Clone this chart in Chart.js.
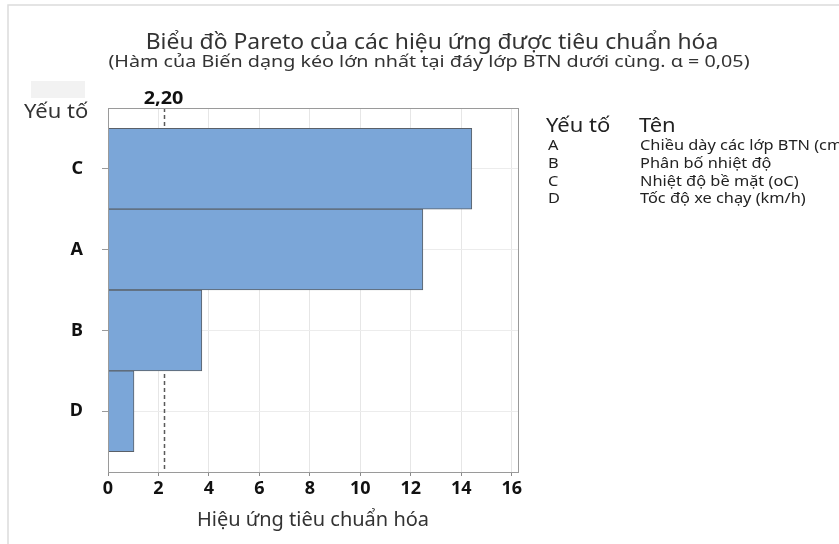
<!DOCTYPE html>
<html>
<head>
<meta charset="utf-8">
<script src="https://cdn.jsdelivr.net/npm/chart.js@4/dist/chart.umd.min.js"></script>
<style>
  html, body { margin: 0; padding: 0; background: #ffffff; }
  #wrap { position: relative; width: 839px; height: 544px; overflow: hidden; }
  canvas { display: block; }
</style>
</head>
<body>
<div id="wrap"><canvas id="chart" width="839" height="544"></canvas></div>
<script>
// Factors in Pareto order (largest standardized effect first)
const factors = ['C', 'A', 'B', 'D'];
const effects = [14.42, 12.48, 3.72, 1.03];
// Legend table: factor code and its name
const legendCodes = ['A', 'B', 'C', 'D'];
const legendNames = ['Chiều dày các lớp BTN (cm)', 'Phân bố nhiệt độ', 'Nhiệt độ bề mặt (oC)', 'Tốc độ xe chạy (km/h)'];
const xTicks = [0, 2, 4, 6, 8, 10, 12, 14, 16];
const criticalValue = 2.20;

const titleText = 'Biểu đồ Pareto của các hiệu ứng được tiêu chuẩn hóa';
const subtitleText = '(Hàm của Biến dạng kéo lớn nhất tại đáy lớp BTN dưới cùng. α = 0,05)';
const xTitle = 'Hiệu ứng tiêu chuẩn hóa';
const yTitle = 'Yếu tố';
const legendHead = ['Yếu tố', 'Tên'];

const FONT = '"Noto Sans", "Open Sans", sans-serif';

// Draw text with a horizontal stretch factor (wide, compact lettering)
function wideText(ctx, text, x, y, font, sx, align) {
  ctx.save();
  ctx.font = font;
  ctx.textAlign = align;
  ctx.translate(x, y);
  ctx.scale(sx, 1);
  ctx.fillText(text, 0, 0);
  ctx.restore();
}

const decorations = {
  id: 'decorations',
  beforeDraw(chart) {
    const ctx = chart.ctx;
    ctx.save();
    // outer frame lines
    ctx.strokeStyle = '#dcdcdc';
    ctx.lineWidth = 1.5;
    ctx.beginPath();
    ctx.moveTo(8, 544); ctx.lineTo(8, 5); ctx.lineTo(839, 5);
    ctx.stroke();
    // small pale box above the axis caption
    ctx.fillStyle = '#f2f2f2';
    ctx.fillRect(31, 81, 54, 17);
    ctx.restore();
  },
  beforeDatasetsDraw(chart) {
    // critical value reference line sits behind the bars
    const ctx = chart.ctx;
    const a = chart.chartArea;
    const cx = Math.round(chart.scales.x.getPixelForValue(criticalValue)) + 0.5;
    ctx.save();
    ctx.strokeStyle = '#5a5a5a';
    ctx.lineWidth = 1.5;
    ctx.setLineDash([4, 3]);
    ctx.beginPath();
    ctx.moveTo(cx, a.top); ctx.lineTo(cx, a.bottom);
    ctx.stroke();
    ctx.restore();
  },
  afterDraw(chart) {
    const ctx = chart.ctx;
    const a = chart.chartArea;
    const xs = chart.scales.x;
    ctx.save();
    // plot frame
    ctx.strokeStyle = '#9a9a9a';
    ctx.lineWidth = 1;
    ctx.strokeRect(Math.round(a.left) + 0.5, Math.round(a.top) + 0.5,
                   Math.round(a.right - a.left), Math.round(a.bottom - a.top));
    // critical value label
    const cx = Math.round(xs.getPixelForValue(criticalValue)) + 0.5;
    ctx.fillStyle = '#111111';
    ctx.textBaseline = 'alphabetic';
    wideText(ctx, criticalValue.toFixed(2).replace('.', ','), cx - 1, a.top - 4,
             'bold 18px ' + FONT, 1.1, 'center');

    // titles
    ctx.fillStyle = '#333333';
    wideText(ctx, titleText, 432, 49, '21px ' + FONT, 1.09, 'center');
    wideText(ctx, subtitleText, 429, 67, '17px ' + FONT, 1.16, 'center');

    // y-axis caption at top-left
    ctx.textBaseline = 'middle';
    wideText(ctx, yTitle, 24, 112, '20px ' + FONT, 1.1, 'left');

    // factor/name table
    ctx.fillStyle = '#222222';
    wideText(ctx, legendHead[0], 546, 126, '20px ' + FONT, 1.1, 'left');
    wideText(ctx, legendHead[1], 639, 126, '20px ' + FONT, 1.1, 'left');
    for (let i = 0; i < legendCodes.length; i++) {
      const y = 146 + i * 17.7;
      wideText(ctx, legendCodes[i], 548, y, '15px ' + FONT, 1.09, 'left');
      wideText(ctx, legendNames[i], 640, y, '15px ' + FONT, 1.09, 'left');
    }
    ctx.restore();
  }
};

new Chart(document.getElementById('chart'), {
  type: 'bar',
  data: {
    datasets: [{
      data: factors.map((f, i) => ({ x: effects[i], y: i + 1 })),
      backgroundColor: '#7ba6d8',
      borderColor: '#5a6068',
      borderWidth: 1,
      barPercentage: 1,
      categoryPercentage: 1
    }]
  },
  options: {
    indexAxis: 'y',
    responsive: false,
    animation: false,
    events: [],
    layout: { padding: { top: 108, right: 321, left: 0, bottom: 0 } },
    plugins: { legend: { display: false }, tooltip: { enabled: false } },
    scales: {
      x: {
        type: 'linear',
        min: 0,
        max: 16.25,
        offset: false,
        afterBuildTicks: s => { s.ticks = xTicks.map(v => ({ value: v })); },
        afterFit: s => { s.height = 72; },
        border: { display: false },
        grid: { color: '#e6e6e6', tickColor: '#8a8a8a', tickLength: 4, lineWidth: 1 },
        ticks: {
          color: '#111111',
          font: { family: FONT, size: 18, weight: 'bold' },
          padding: 2,
          maxRotation: 0
        },
        title: {
          display: true,
          text: xTitle,
          color: '#333333',
          font: { family: FONT, size: 20 },
          padding: { top: 0, bottom: 12 }
        }
      },
      y: {
        type: 'linear',
        reverse: true,
        min: 0.25,
        max: 4.75,
        offset: false,
        afterBuildTicks: s => { s.ticks = factors.map((f, i) => ({ value: i + 1 })); },
        afterFit: s => { s.width = 108; },
        border: { display: false },
        grid: { offset: false, color: '#ececec', tickColor: '#9a9a9a', tickLength: 6, lineWidth: 1 },
        ticks: {
          color: '#111111',
          font: { family: FONT, size: 18, weight: 'bold' },
          padding: 19,
          callback: v => factors[Math.round(v) - 1] || ''
        }
      }
    }
  },
  plugins: [decorations]
});
</script>
</body>
</html>
